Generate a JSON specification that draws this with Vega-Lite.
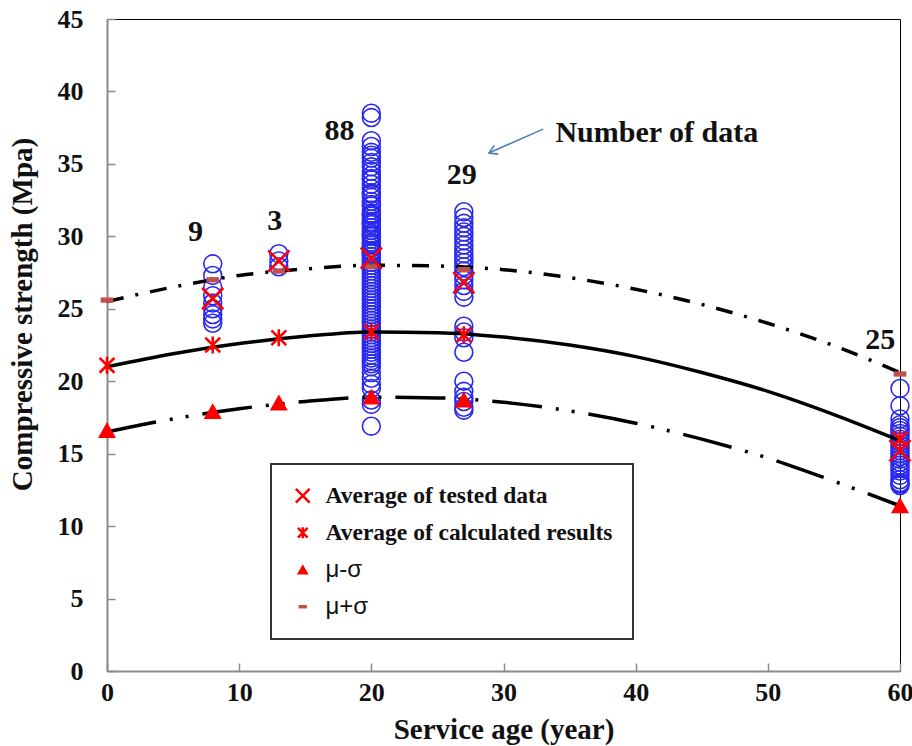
{
  "$schema": "https://vega.github.io/schema/vega-lite/v6.json",
  "width": 793,
  "height": 652,
  "autosize": {"type": "none"},
  "padding": {"left": 107, "top": 19, "right": 12, "bottom": 75},
  "background": "white",
  "config": {
    "view": {"stroke": "#000", "strokeWidth": 1},
    "font": "Liberation Serif",
    "axis": {
      "grid": false,
      "labelFlush": false,
      "domainColor": "#8a8a8a",
      "domainWidth": 2,
      "tickColor": "#8a8a8a",
      "tickWidth": 1.5,
      "tickSize": -8,
      "labelFont": "Liberation Serif",
      "labelFontWeight": "bold",
      "labelFontSize": 26,
      "labelColor": "#111",
      "titleFont": "Liberation Serif",
      "titleFontWeight": "bold",
      "titleFontSize": 29,
      "titleColor": "#111"
    },
    "legend": {
      "orient": "none",
      "legendX": 164,
      "legendY": 445,
      "strokeColor": "#333",
      "fillColor": "white",
      "padding": 20,
      "rowPadding": 12,
      "labelFont": "Liberation Serif",
      "labelFontWeight": "bold",
      "labelFontSize": 23.5,
      "labelColor": "#111",
      "labelOffset": 11,
      "labelLimit": 500,
      "symbolSize": 190,
      "symbolStrokeWidth": 2.5,
      "symbolOpacity": 1
    }
  },
  "datasets": {
    "tested": [
      {"age": 8, "strength": 28.1}, {"age": 8, "strength": 27.3}, {"age": 8, "strength": 26.5},
      {"age": 8, "strength": 25.9}, {"age": 8, "strength": 25.4}, {"age": 8, "strength": 25.0},
      {"age": 8, "strength": 24.6}, {"age": 8, "strength": 24.3}, {"age": 8, "strength": 24.0},
      {"age": 13, "strength": 28.8}, {"age": 13, "strength": 28.3}, {"age": 13, "strength": 27.9},
      {"age": 20, "strength": 38.5}, {"age": 20, "strength": 38.2}, {"age": 20, "strength": 36.6},
      {"age": 20, "strength": 36.2}, {"age": 20, "strength": 35.8}, {"age": 20, "strength": 35.6},
      {"age": 20, "strength": 35.4}, {"age": 20, "strength": 35.1}, {"age": 20, "strength": 34.8},
      {"age": 20, "strength": 34.5}, {"age": 20, "strength": 34.2}, {"age": 20, "strength": 34.0},
      {"age": 20, "strength": 33.9}, {"age": 20, "strength": 33.6}, {"age": 20, "strength": 33.3},
      {"age": 20, "strength": 33.0}, {"age": 20, "strength": 32.9}, {"age": 20, "strength": 32.7},
      {"age": 20, "strength": 32.4}, {"age": 20, "strength": 32.2}, {"age": 20, "strength": 32.1},
      {"age": 20, "strength": 31.8}, {"age": 20, "strength": 31.6}, {"age": 20, "strength": 31.5},
      {"age": 20, "strength": 31.4}, {"age": 20, "strength": 31.2}, {"age": 20, "strength": 31.0},
      {"age": 20, "strength": 30.9}, {"age": 20, "strength": 30.8}, {"age": 20, "strength": 30.6},
      {"age": 20, "strength": 30.4}, {"age": 20, "strength": 30.2}, {"age": 20, "strength": 30.1},
      {"age": 20, "strength": 30.0}, {"age": 20, "strength": 29.8}, {"age": 20, "strength": 29.6},
      {"age": 20, "strength": 29.5}, {"age": 20, "strength": 29.4}, {"age": 20, "strength": 29.2},
      {"age": 20, "strength": 29.0}, {"age": 20, "strength": 28.9}, {"age": 20, "strength": 28.8},
      {"age": 20, "strength": 28.6}, {"age": 20, "strength": 28.4}, {"age": 20, "strength": 28.2},
      {"age": 20, "strength": 28.0}, {"age": 20, "strength": 27.8}, {"age": 20, "strength": 27.6},
      {"age": 20, "strength": 27.4}, {"age": 20, "strength": 27.2}, {"age": 20, "strength": 27.0},
      {"age": 20, "strength": 26.8}, {"age": 20, "strength": 26.6}, {"age": 20, "strength": 26.4},
      {"age": 20, "strength": 26.2}, {"age": 20, "strength": 26.0}, {"age": 20, "strength": 25.8},
      {"age": 20, "strength": 25.6}, {"age": 20, "strength": 25.4}, {"age": 20, "strength": 25.2},
      {"age": 20, "strength": 25.0}, {"age": 20, "strength": 24.8}, {"age": 20, "strength": 24.6},
      {"age": 20, "strength": 24.4}, {"age": 20, "strength": 24.2}, {"age": 20, "strength": 24.0},
      {"age": 20, "strength": 23.8}, {"age": 20, "strength": 23.6}, {"age": 20, "strength": 23.4},
      {"age": 20, "strength": 23.2}, {"age": 20, "strength": 23.0}, {"age": 20, "strength": 22.8},
      {"age": 20, "strength": 22.6}, {"age": 20, "strength": 22.4}, {"age": 20, "strength": 22.2},
      {"age": 20, "strength": 22.0}, {"age": 20, "strength": 21.8}, {"age": 20, "strength": 21.6},
      {"age": 20, "strength": 21.4}, {"age": 20, "strength": 21.2}, {"age": 20, "strength": 21.0},
      {"age": 20, "strength": 20.6}, {"age": 20, "strength": 20.2}, {"age": 20, "strength": 19.8},
      {"age": 20, "strength": 19.5}, {"age": 20, "strength": 18.7}, {"age": 20, "strength": 18.4},
      {"age": 20, "strength": 16.9},
      {"age": 27, "strength": 31.7}, {"age": 27, "strength": 31.3}, {"age": 27, "strength": 30.9},
      {"age": 27, "strength": 30.6}, {"age": 27, "strength": 30.3}, {"age": 27, "strength": 30.0},
      {"age": 27, "strength": 29.7}, {"age": 27, "strength": 29.4}, {"age": 27, "strength": 29.1},
      {"age": 27, "strength": 28.8}, {"age": 27, "strength": 28.5}, {"age": 27, "strength": 28.2},
      {"age": 27, "strength": 27.9}, {"age": 27, "strength": 27.6}, {"age": 27, "strength": 27.3},
      {"age": 27, "strength": 27.0}, {"age": 27, "strength": 26.6}, {"age": 27, "strength": 26.2},
      {"age": 27, "strength": 25.8}, {"age": 27, "strength": 23.8}, {"age": 27, "strength": 23.4},
      {"age": 27, "strength": 23.0}, {"age": 27, "strength": 22.0}, {"age": 27, "strength": 20.0},
      {"age": 27, "strength": 19.3}, {"age": 27, "strength": 18.9}, {"age": 27, "strength": 18.6},
      {"age": 27, "strength": 18.2}, {"age": 27, "strength": 18.0},
      {"age": 60, "strength": 19.5}, {"age": 60, "strength": 18.3}, {"age": 60, "strength": 17.4},
      {"age": 60, "strength": 17.0}, {"age": 60, "strength": 16.8}, {"age": 60, "strength": 16.6},
      {"age": 60, "strength": 16.4}, {"age": 60, "strength": 16.2}, {"age": 60, "strength": 16.0},
      {"age": 60, "strength": 15.8}, {"age": 60, "strength": 15.6}, {"age": 60, "strength": 15.4},
      {"age": 60, "strength": 15.2}, {"age": 60, "strength": 15.0}, {"age": 60, "strength": 14.8},
      {"age": 60, "strength": 14.6}, {"age": 60, "strength": 14.4}, {"age": 60, "strength": 14.2},
      {"age": 60, "strength": 14.0}, {"age": 60, "strength": 13.8}, {"age": 60, "strength": 13.5},
      {"age": 60, "strength": 13.2}, {"age": 60, "strength": 13.0}, {"age": 60, "strength": 12.9},
      {"age": 60, "strength": 12.8}
    ],
    "curves": [
      {"curve": "mean", "age": 0, "value": 21.0}, {"curve": "mean", "age": 5, "value": 21.9},
      {"curve": "mean", "age": 10, "value": 22.6}, {"curve": "mean", "age": 15, "value": 23.1},
      {"curve": "mean", "age": 20, "value": 23.4}, {"curve": "mean", "age": 25, "value": 23.35},
      {"curve": "mean", "age": 30, "value": 23.05}, {"curve": "mean", "age": 35, "value": 22.5},
      {"curve": "mean", "age": 40, "value": 21.7}, {"curve": "mean", "age": 45, "value": 20.6},
      {"curve": "mean", "age": 50, "value": 19.3}, {"curve": "mean", "age": 55, "value": 17.7},
      {"curve": "mean", "age": 60, "value": 15.9},
      {"curve": "upper", "age": 0, "value": 25.5}, {"curve": "upper", "age": 5, "value": 26.5},
      {"curve": "upper", "age": 10, "value": 27.3}, {"curve": "upper", "age": 15, "value": 27.75},
      {"curve": "upper", "age": 20, "value": 28.0}, {"curve": "upper", "age": 25, "value": 27.95},
      {"curve": "upper", "age": 30, "value": 27.7}, {"curve": "upper", "age": 35, "value": 27.15},
      {"curve": "upper", "age": 40, "value": 26.35}, {"curve": "upper", "age": 45, "value": 25.3},
      {"curve": "upper", "age": 50, "value": 24.0}, {"curve": "upper", "age": 55, "value": 22.45},
      {"curve": "upper", "age": 60, "value": 20.6},
      {"curve": "lower", "age": 0, "value": 16.5}, {"curve": "lower", "age": 5, "value": 17.4},
      {"curve": "lower", "age": 10, "value": 18.1}, {"curve": "lower", "age": 15, "value": 18.6},
      {"curve": "lower", "age": 20, "value": 18.9}, {"curve": "lower", "age": 25, "value": 18.85},
      {"curve": "lower", "age": 30, "value": 18.55}, {"curve": "lower", "age": 35, "value": 17.95},
      {"curve": "lower", "age": 40, "value": 17.1}, {"curve": "lower", "age": 45, "value": 16.0},
      {"curve": "lower", "age": 50, "value": 14.7}, {"curve": "lower", "age": 55, "value": 13.1},
      {"curve": "lower", "age": 60, "value": 11.4}
    ],
    "markers": [
      {"series": "μ+σ", "age": 0, "value": 25.6}, {"series": "μ+σ", "age": 8, "value": 27.0},
      {"series": "μ+σ", "age": 13, "value": 27.6}, {"series": "μ+σ", "age": 20, "value": 27.9},
      {"series": "μ+σ", "age": 27, "value": 27.7}, {"series": "μ+σ", "age": 60, "value": 20.5},
      {"series": "μ-σ", "age": 0, "value": 16.6}, {"series": "μ-σ", "age": 8, "value": 17.9},
      {"series": "μ-σ", "age": 13, "value": 18.5}, {"series": "μ-σ", "age": 20, "value": 18.9},
      {"series": "μ-σ", "age": 27, "value": 18.7}, {"series": "μ-σ", "age": 60, "value": 11.4},
      {"series": "Average of calculated results", "age": 0, "value": 21.1},
      {"series": "Average of calculated results", "age": 8, "value": 22.5},
      {"series": "Average of calculated results", "age": 13, "value": 23.0},
      {"series": "Average of calculated results", "age": 20, "value": 23.4},
      {"series": "Average of calculated results", "age": 27, "value": 23.2},
      {"series": "Average of calculated results", "age": 60, "value": 16.0},
      {"series": "Average of tested data", "age": 8, "value": 25.7},
      {"series": "Average of tested data", "age": 13, "value": 28.3},
      {"series": "Average of tested data", "age": 20, "value": 28.5},
      {"series": "Average of tested data", "age": 27, "value": 26.8},
      {"series": "Average of tested data", "age": 60, "value": 15.2}
    ],
    "counts": [
      {"age": 6.7, "value": 30.3, "n": "9"},
      {"age": 12.7, "value": 31.05, "n": "3"},
      {"age": 17.6, "value": 37.3, "n": "88"},
      {"age": 26.85, "value": 34.2, "n": "29"},
      {"age": 58.5, "value": 22.85, "n": "25"}
    ],
    "note": [{"age": 41.6, "value": 37.1, "text": "Number of data"}],
    "arrow": [{"age0": 33.0, "value0": 37.4, "age1": 28.9, "value1": 35.75}]
  },
  "layer": [
    {
      "data": {"name": "tested"},
      "mark": {"type": "point", "shape": "circle", "filled": false, "size": 320, "strokeWidth": 1.6, "color": "#2828f0", "opacity": 1},
      "encoding": {
        "x": {"field": "age", "type": "quantitative", "scale": {"domain": [0, 60], "nice": false, "zero": false},
          "axis": {"title": "Service age (year)", "values": [0, 10, 20, 30, 40, 50, 60], "labelPadding": 16, "titlePadding": 10}},
        "y": {"field": "strength", "type": "quantitative", "scale": {"domain": [0, 45], "nice": false},
          "axis": {"title": "Compressive strength (Mpa)", "values": [0, 5, 10, 15, 20, 25, 30, 35, 40, 45], "labelPadding": 32, "titlePadding": 20, "titleY": 295}}
      }
    },
    {
      "data": {"name": "curves"},
      "transform": [{"filter": "datum.curve === 'mean'"}],
      "mark": {"type": "line", "color": "#000", "strokeWidth": 3.5, "interpolate": "monotone"},
      "encoding": {
        "x": {"field": "age", "type": "quantitative"},
        "y": {"field": "value", "type": "quantitative"}
      }
    },
    {
      "data": {"name": "curves"},
      "transform": [{"filter": "datum.curve === 'upper'"}],
      "mark": {"type": "line", "color": "#000", "strokeWidth": 3.5, "interpolate": "monotone", "strokeDash": [17, 12, 3, 12]},
      "encoding": {
        "x": {"field": "age", "type": "quantitative"},
        "y": {"field": "value", "type": "quantitative"}
      }
    },
    {
      "data": {"name": "curves"},
      "transform": [{"filter": "datum.curve === 'lower'"}],
      "mark": {"type": "line", "color": "#000", "strokeWidth": 3.5, "interpolate": "monotone", "strokeDash": [50, 14, 3, 13, 3, 14]},
      "encoding": {
        "x": {"field": "age", "type": "quantitative"},
        "y": {"field": "value", "type": "quantitative"}
      }
    },
    {
      "data": {"name": "markers"},
      "mark": {"type": "point", "size": 450, "strokeWidth": 2.6, "opacity": 1},
      "encoding": {
        "x": {"field": "age", "type": "quantitative"},
        "y": {"field": "value", "type": "quantitative"},
        "shape": {"field": "series", "type": "nominal",
          "scale": {"domain": ["Average of tested data", "Average of calculated results", "μ-σ", "μ+σ"],
            "range": ["M-1,-1L1,1M-1,1L1,-1", "M-0.7,-0.7L0.7,0.7M-0.7,0.7L0.7,-0.7M0,-0.8L0,0.8", "M0,-0.8L0.85,0.7L-0.85,0.7Z", "M-0.6,-0.25L0.6,-0.25L0.6,0.25L-0.6,0.25Z"]},
          "legend": {"title": null,
            "encode": {
              "legend": {"update": {"strokeWidth": {"value": 2}}},
              "labels": {"update": {
                "font": {"signal": "test(/μ/, datum.label) ? 'Liberation Sans' : 'Liberation Serif'"},
                "fontWeight": {"signal": "test(/μ/, datum.label) ? 'normal' : 'bold'"},
                "fontSize": {"signal": "test(/μ/, datum.label) ? 24 : 23.5"}
              }}
            }}},
        "fill": {"field": "series", "type": "nominal",
          "scale": {"domain": ["Average of tested data", "Average of calculated results", "μ-σ", "μ+σ"],
            "range": ["transparent", "transparent", "#ff0000", "#c0504d"]},
          "legend": {"title": null,
            "encode": {
              "legend": {"update": {"strokeWidth": {"value": 2}}},
              "labels": {"update": {
                "font": {"signal": "test(/μ/, datum.label) ? 'Liberation Sans' : 'Liberation Serif'"},
                "fontWeight": {"signal": "test(/μ/, datum.label) ? 'normal' : 'bold'"},
                "fontSize": {"signal": "test(/μ/, datum.label) ? 24 : 23.5"}
              }}
            }}},
        "stroke": {"field": "series", "type": "nominal",
          "scale": {"domain": ["Average of tested data", "Average of calculated results", "μ-σ", "μ+σ"],
            "range": ["#ff0000", "#ff0000", "transparent", "transparent"]},
          "legend": {"title": null,
            "encode": {
              "legend": {"update": {"strokeWidth": {"value": 2}}},
              "labels": {"update": {
                "font": {"signal": "test(/μ/, datum.label) ? 'Liberation Sans' : 'Liberation Serif'"},
                "fontWeight": {"signal": "test(/μ/, datum.label) ? 'normal' : 'bold'"},
                "fontSize": {"signal": "test(/μ/, datum.label) ? 24 : 23.5"}
              }}
            }}}
      }
    },
    {
      "data": {"name": "counts"},
      "mark": {"type": "text", "font": "Liberation Serif", "fontWeight": "bold", "fontSize": 30, "color": "#111", "baseline": "middle", "align": "center"},
      "encoding": {
        "x": {"field": "age", "type": "quantitative"},
        "y": {"field": "value", "type": "quantitative"},
        "text": {"field": "n"}
      }
    },
    {
      "data": {"name": "note"},
      "mark": {"type": "text", "font": "Liberation Serif", "fontWeight": "bold", "fontSize": 30, "color": "#111", "baseline": "middle", "align": "center"},
      "encoding": {
        "x": {"field": "age", "type": "quantitative"},
        "y": {"field": "value", "type": "quantitative"},
        "text": {"field": "text"}
      }
    },
    {
      "data": {"name": "arrow"},
      "mark": {"type": "rule", "color": "#4a7ebb", "strokeWidth": 1.6},
      "encoding": {
        "x": {"field": "age0", "type": "quantitative"},
        "y": {"field": "value0", "type": "quantitative"},
        "x2": {"field": "age1"},
        "y2": {"field": "value1"}
      }
    },
    {
      "data": {"name": "arrow"},
      "mark": {"type": "point", "shape": "M-1,-0.6L0,0L-1,0.6", "size": 256, "angle": 156, "filled": false, "color": "#4a7ebb", "strokeWidth": 1.6, "opacity": 1},
      "encoding": {
        "x": {"field": "age1", "type": "quantitative"},
        "y": {"field": "value1", "type": "quantitative"}
      }
    }
  ]
}
